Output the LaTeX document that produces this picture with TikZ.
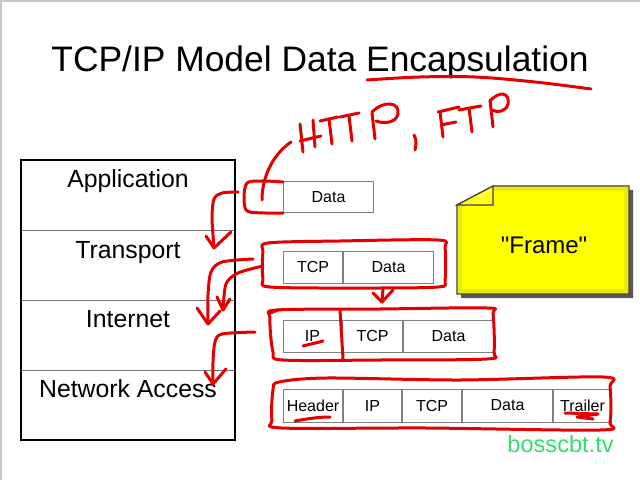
\documentclass[tikz,border=0pt]{standalone}
\usepackage{fontspec}
\setmainfont{Liberation Sans}
% a family without TeX ligature mapping, so " stays straight
\newfontfamily\notefont{Liberation Sans}
\definecolor{inkred}{RGB}{228,0,0}
\definecolor{wmgreen}{RGB}{52,222,110}
\definecolor{noteyellow}{RGB}{255,255,0}
\begin{document}
\begin{tikzpicture}[x=0.5pt,y=-0.5pt,
  layerbox/.style={draw=black!55, line width=0.7pt, minimum width=107pt, minimum height=35pt, inner sep=0pt, anchor=north west},
  layerlbl/.style={font=\fontsize{12.4}{14}\selectfont, anchor=base},
  cell/.style={draw=black!50, line width=0.5pt, fill=white, inner sep=0pt, anchor=west,
    font=\fontsize{8}{9}\selectfont},
  ink/.style={draw=inkred, line width=1.5pt, line cap=round, line join=round}]
\useasboundingbox (0,0) rectangle (640,480);
\fill[white] (0,0) rectangle (640,480);
% faint slide edge
\draw[black!22, line width=0.8pt] (1,480) -- (1,1) -- (640,1);

% title
\node[font=\fontsize{17.7}{20}\selectfont, anchor=base] (title) at (320,72) {TCP/IP Model Data Encapsulation};

% layer stack
\node[layerbox] (app) at (21,160) {};
\node[layerbox] (trn) at (21,230) {};
\node[layerbox] (inet) at (21,300) {};
\node[layerbox] (nacc) at (21,370) {};
\draw[black, line width=1pt] (21,160) rectangle (235,440);
\node[layerlbl] (appl) at (128,188) {Application};
\node[layerlbl] (trnl) at (128,258) {Transport};
\node[layerlbl] (inetl) at (128,327) {Internet};
\node[layerlbl] (naccl) at (128,397) {Network Access};

% application data
\node[cell, minimum width=45pt, minimum height=15.5pt] (d0) at (283,197.5) {Data};
% segment
\node[cell, minimum width=29.5pt, minimum height=16pt] (s1) at (283,267) {TCP};
\node[cell, minimum width=45pt, minimum height=16pt] (s2) at (s1.east) {Data};
% packet
\node[cell, minimum width=29pt, minimum height=16pt] (p1) at (283,336) {IP};
\node[cell, minimum width=30pt, minimum height=16pt] (p2) at (p1.east) {TCP};
\node[cell, minimum width=45pt, minimum height=16pt] (p3) at (p2.east) {Data};
% frame
\node[cell, minimum width=29.5pt, minimum height=16.5pt] (f1) at (283,405.5) {Header};
\node[cell, minimum width=29pt, minimum height=16.5pt] (f2) at (f1.east) {IP};
\node[cell, minimum width=29.5pt, minimum height=16.5pt] (f3) at (f2.east) {TCP};
\node[cell, minimum width=45pt, minimum height=16.5pt] (f4) at (f3.east) {Data};
\node[cell, minimum width=29pt, minimum height=16.5pt] (f5) at (f4.east) {Trailer};

% sticky note with folded corner
\fill[black!65] (461,209) -- (497,190) -- (633,190) -- (633,298) -- (461,298) -- cycle;
\filldraw[fill=noteyellow, draw=black!75, line width=0.6pt]
  (457,205) -- (493,186) -- (629,186) -- (629,294) -- (457,294) -- cycle;
\draw[yellow!82!black, line width=1.6pt, opacity=0.5]
  (460,207) -- (494,189) -- (626,189) -- (626,291) -- (460,291) -- cycle;
\filldraw[fill=noteyellow!85!white, draw=black!75, line width=0.6pt]
  (457,205) -- (493,205) -- (493,186) -- cycle;
\node[font=\notefont\fontsize{12}{14}\selectfont] (frame) at (544,245) {"Frame"};

% watermark
\node[font=\fontsize{11.8}{14}\selectfont, text=wmgreen, anchor=base west, inner sep=0pt] (wm) at (507,452) {bosscbt.tv};

% ---- pen annotations ----
% underline of the title
\draw[ink] plot[smooth, tension=0.6] coordinates {(367,80) (420,77) (475,77) (535,82) (591,89)};
% HTTP, FTP
\draw[ink] (300,124) -- (303,152);
\draw[ink] (300,141) -- (321,136);
\draw[ink] (313,120) -- (315,147);
\draw[ink] (320,121) -- (338,117);
\draw[ink] (329,119) -- (332,144);
\draw[ink] (340,117) -- (359,113);
\draw[ink] (349,116) -- (352,141);
\draw[ink] (372,113) -- (375,139);
\draw[ink] (372,112) .. controls (384,100) and (400,102) .. (398,114) .. controls (396,123) and (384,124) .. (376,121);
\draw[ink] (414,135) .. controls (417,140) and (416,145) .. (415,150);
\draw[ink] (440,112) -- (443,137);
\draw[ink] (438,112) -- (459,107);
\draw[ink] (441,125) -- (456,122);
\draw[ink] (459,110) -- (481,106);
\draw[ink] (469,108) -- (472,132);
\draw[ink] (490,100) -- (493,127);
\draw[ink] (490,101) .. controls (500,90) and (510,93) .. (508,104) .. controls (506,112) and (497,113) .. (492,110);
% link from the protocols to the data
\draw[ink] (291,142) .. controls (272,155) and (262,178) .. (262,200);
% bracket on the data
\draw[ink] plot[smooth, tension=0.5] coordinates {(283,182) (262,181) (247,183) (244,198) (247,211) (265,213) (283,213)};
% application to transport
\draw[ink] plot[smooth, tension=0.5] coordinates {(238,192) (222,193) (214,199) (212,218) (214,247)};
\draw[ink] (206,236) -- (214,248) -- (231,232);
% segment outline
\draw[ink] plot[smooth cycle, tension=0.5] coordinates {(268,243) (340,241) (438,240) (445,248) (445,280) (438,287) (360,288) (270,287) (263,279) (263,252)};
% transport to internet
\draw[ink] plot[smooth, tension=0.5] coordinates {(253,259) (222,262) (211,272) (208,295) (208,322)};
\draw[ink] (197,308) -- (208,324) -- (220,311);
\draw[ink] plot[smooth, tension=0.5] coordinates {(263,266) (238,273) (226,284) (223,310)};
\draw[ink] (217,297) -- (223,310) -- (230,299);
% segment into packet
\draw[ink] (383,288) -- (382,302);
\draw[ink] (373,293) -- (382,302) -- (393,290);
% packet outline
\draw[ink] (270,313) -- (278,310);
\draw[ink] plot[smooth cycle, tension=0.5] coordinates {(277,310) (380,309) (487,308) (493,314) (494,352) (487,359) (380,360) (283,360) (273,352) (270,318)};
\draw[ink] (340,310) -- (343,359);
\draw[ink] (303,346) .. controls (310,344) and (317,343) .. (323,341);
% internet to network access
\draw[ink] plot[smooth, tension=0.5] coordinates {(255,332) (222,334) (215,342) (213,362) (213,384)};
\draw[ink] (205,372) -- (213,384) -- (226,369);
% frame outline
\draw[ink] plot[smooth cycle, tension=0.5] coordinates {(279,382) (327,378) (460,380) (603,377) (610,387) (610,422) (600,430) (427,428) (282,428) (272,420) (273,390)};
\draw[ink] (295,421) .. controls (306,419) and (318,417) .. (330,417);
\draw[ink] (565,413) -- (598,414);
\draw[ink] (598,414) -- (577,417) -- (593,419);
\end{tikzpicture}
\end{document}
